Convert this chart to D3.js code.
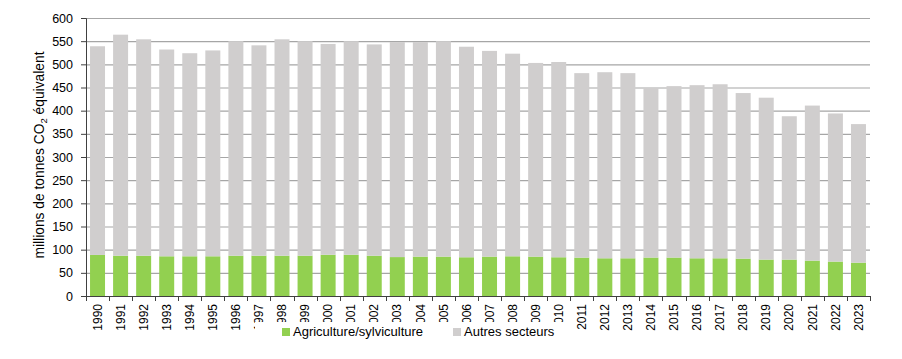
<!DOCTYPE html>
<html><head><meta charset="utf-8">
<script src="https://cdn.jsdelivr.net/npm/d3@7"></script>
<style>
body{margin:0;background:#fff;}
text{font-family:"Liberation Sans",Arial,sans-serif;}
</style></head>
<body><svg id="c" width="902" height="359"></svg>
<script>
const years = ["1990","1991","1992","1993","1994","1995","1996","1997","1998","1999","2000","2001","2002","2003","2004","2005","2006","2007","2008","2009","2010","2011","2012","2013","2014","2015","2016","2017","2018","2019","2020","2021","2022","2023"];
const agriculture = [88.6,87,87,85.7,85.7,85.7,87,87,87,87,89,89,87,84,85,85,83.6,85,85.7,85,83.6,82.9,81.4,81.4,83,83,81.4,81.4,80.7,78.6,78.6,76.4,74.3,72];
const autres = [450.4,477,467,446.3,438.3,444.3,463,454,467,463,455,461,456,464,463,465,454.4,444,437.3,418,421.4,398.1,401.6,399.6,366,370,373.6,375.6,357.3,349.4,309.4,334.6,319.7,299];
const yTicks = [0,50,100,150,200,250,300,350,400,450,500,550,600];
const seriesNames = ["Agriculture/sylviculture","Autres secteurs"];
const colors = ["#92D050","#D0CECE"];

const svg = d3.select("#c");
const L=86, R=870, T=18, B=296;
const x = d3.scaleBand().domain(years).range([L,R]).paddingInner(0.35).paddingOuter(0.175);
const y = d3.scaleLinear().domain([0,600]).range([B,T]);

svg.append("g").selectAll("line").data(yTicks.filter(d=>d>0)).join("line")
  .attr("x1",L).attr("x2",R).attr("y1",d=>y(d)+0.5).attr("y2",d=>y(d)+0.5)
  .attr("stroke","#a6a6a6").attr("stroke-width",1.2);

const data = years.map((yr,i)=>({year:yr, a:agriculture[i], o:autres[i]}));
const stack = d3.stack().keys(["a","o"])(data);
svg.append("g").selectAll("g").data(stack).join("g").attr("fill",(d,i)=>colors[i])
  .selectAll("rect").data(d=>d).join("rect")
  .attr("x",d=>x(d.data.year)).attr("width",x.bandwidth())
  .attr("y",d=>y(d[1])).attr("height",d=>y(d[0])-y(d[1]));

const ya = svg.append("g").attr("transform",`translate(${L},0)`)
  .call(d3.axisLeft(y).tickValues(yTicks).tickSize(5).tickPadding(8));
ya.select(".domain").attr("stroke","#404040");
ya.selectAll(".tick line").attr("stroke","#404040");
ya.selectAll("text").attr("font-size","12.5px").attr("fill","#000").attr("font-family","Liberation Sans, Arial, sans-serif");

const xa = svg.append("g").attr("transform",`translate(0,${B})`)
  .call(d3.axisBottom(x).tickSize(0).tickSizeOuter(0));
xa.select(".domain").attr("stroke","#404040");
xa.selectAll(".tick text").attr("font-size","12px").attr("fill","#000")
  .attr("font-family","Liberation Sans, Arial, sans-serif")
  .attr("transform","rotate(-90)").attr("text-anchor","end")
  .attr("x",-8).attr("y",0).attr("dy","0.35em");
const bounds = years.map(d=>x(d)-x.step()*x.paddingInner()/2).concat([R]);
xa.append("g").selectAll("line").data(bounds).join("line")
  .attr("x1",d=>Math.round(d)+0.5).attr("x2",d=>Math.round(d)+0.5).attr("y1",0).attr("y2",5)
  .attr("stroke","#404040");

const yt = svg.append("text").attr("transform",`translate(44,155) rotate(-90)`)
  .attr("text-anchor","middle").attr("font-size","13.8px").attr("fill","#000");
yt.append("tspan").text("millions de tonnes CO");
yt.append("tspan").attr("font-size","9.5px").attr("dy","3").text("2");
yt.append("tspan").attr("dy","-3").text(" équivalent");

svg.append("rect").attr("x",255).attr("y",322).attr("width",313).attr("height",22).attr("fill","#fff");
const leg = svg.append("g");
const legX = [282,453];
seriesNames.forEach((n,i)=>{
  leg.append("rect").attr("x",legX[i]).attr("y",328).attr("width",8).attr("height",8).attr("fill",colors[i]);
  leg.append("text").attr("x",legX[i]+11).attr("y",336).attr("font-size","13px").attr("fill","#000").text(n);
});
</script></body></html>
